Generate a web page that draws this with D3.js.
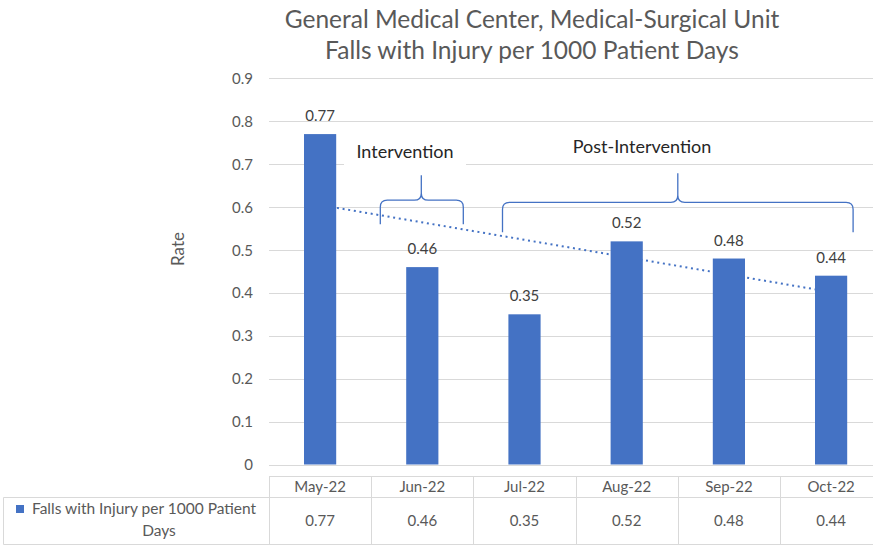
<!DOCTYPE html>
<html>
<head>
<meta charset="utf-8">
<script src="https://cdn.jsdelivr.net/npm/d3@7"></script>
<style>
  html, body { margin: 0; padding: 0; background: #fff; }
  svg { display: block; font-family: Lato, "Open Sans", sans-serif; }
</style>
</head>
<body>
<svg id="chart" width="873" height="545"></svg>
<script>
// ---- data ----
const categories = ["May-22", "Jun-22", "Jul-22", "Aug-22", "Sep-22", "Oct-22"];
const values = [0.77, 0.46, 0.35, 0.52, 0.48, 0.44];
const yTicks = [0, 0.1, 0.2, 0.3, 0.4, 0.5, 0.6, 0.7, 0.8, 0.9];
const titleLines = ["General Medical Center, Medical-Surgical Unit", "Falls with Injury per 1000 Patient Days"];
const seriesName = ["Falls with Injury per 1000 Patient", "Days"];
const axisTitle = "Rate";
const phaseLabels = ["Intervention", "Post-Intervention"];

// ---- layout ----
const W = 873, H = 545;
const plotLeft = 269, bandW = 102.2, plotTop = 78.3, plotBottom = 464.5;
const svg = d3.select("#chart");
const blue = "#4472C4", grid = "#d9d9d9", textGrey = "#595959";

const x = d3.scaleBand().domain(categories).range([plotLeft, plotLeft + bandW * categories.length]).padding(0);
const y = d3.scaleLinear().domain([0, 0.9]).range([plotBottom, plotTop]);
const cx = c => x(c) + x.bandwidth() / 2;

// title
svg.append("g").selectAll("text").data(titleLines).join("text")
  .attr("x", 532).attr("y", (d, i) => 28 + i * 31)
  .attr("text-anchor", "middle").attr("fill", textGrey)
  .style("font-size", "24.5px").text(d => d);

// gridlines
svg.append("g").selectAll("line").data(yTicks).join("line")
  .attr("x1", plotLeft).attr("x2", W)
  .attr("y1", d => Math.round(y(d)) + 0.5).attr("y2", d => Math.round(y(d)) + 0.5)
  .attr("stroke", grid).attr("stroke-width", 1);

// y axis labels
const yAxis = d3.axisLeft(y).tickValues(yTicks).tickSize(0).tickPadding(0).tickFormat(d => d3.format("")(+d.toFixed(1)));
const yg = svg.append("g").attr("transform", `translate(${253},0)`).call(yAxis);
yg.select(".domain").remove();
yg.selectAll("text").attr("fill", textGrey).style("font-size", "15px").style("font-family", "Lato, sans-serif").attr("dy", "0.34em");

// axis title
svg.append("text").attr("transform", "translate(184,249) rotate(-90)")
  .attr("text-anchor", "middle").attr("fill", textGrey).style("font-size", "17px").text(axisTitle);

// trendline (linear regression over category index)
const idx = values.map((v, i) => i + 1);
const mx = d3.mean(idx), my = d3.mean(values);
const slope = d3.sum(idx.map((xi, i) => (xi - mx) * (values[i] - my))) / d3.sum(idx.map(xi => (xi - mx) ** 2));
const intercept = my - slope * mx;
const trendPts = [categories[0], categories[categories.length - 1]].map((c, k) => {
  const i = k === 0 ? 1 : categories.length;
  return [cx(c), y(intercept + slope * i)];
});
svg.append("path").attr("d", d3.line()(trendPts))
  .attr("fill", "none").attr("stroke", blue).attr("stroke-width", 2)
  .attr("stroke-dasharray", "2 3.7");

// bars
const barW = x.bandwidth() * 0.315;
svg.append("g").selectAll("rect").data(values).join("rect")
  .attr("x", (d, i) => cx(categories[i]) - barW / 2)
  .attr("y", d => y(d)).attr("width", barW).attr("height", d => plotBottom - y(d))
  .attr("fill", blue);

// data labels
svg.append("g").selectAll("text").data(values).join("text")
  .attr("x", (d, i) => cx(categories[i])).attr("y", d => y(d) - 13)
  .attr("text-anchor", "middle").attr("fill", "#404040").style("font-size", "15px")
  .text(d => d3.format(".2f")(d));

// braces
function brace(x1, x2, xm, yTip, yBar, yTop, r) {
  return `M${x1},${yTip} L${x1},${yBar + r} Q${x1},${yBar} ${x1 + r},${yBar} L${xm - r},${yBar} Q${xm},${yBar} ${xm},${yBar - r} L${xm},${yTop}` +
         ` M${xm},${yTop} L${xm},${yBar - r} Q${xm},${yBar} ${xm + r},${yBar} L${x2 - r},${yBar} Q${x2},${yBar} ${x2},${yBar + r} L${x2},${yTip}`;
}
const braceG = svg.append("g").attr("fill", "none").attr("stroke", blue).attr("stroke-width", 1.3);
braceG.append("path").attr("d", brace(cx(categories[1]) - 42, cx(categories[1]) + 41, cx(categories[1]) - 1, y(0.56), y(0.616), y(0.674), 7));
braceG.append("path").attr("d", brace(cx(categories[2]) - 22, cx(categories[5]) + 22, (cx(categories[2]) - 22 + cx(categories[5]) + 22) / 2, y(0.541), y(0.611), y(0.679), 7));

// phase labels
svg.append("rect").attr("x", 344).attr("y", 136).attr("width", 122).attr("height", 34).attr("fill", "#fff");
svg.append("text").attr("x", 405).attr("y", 158).attr("text-anchor", "middle").attr("fill", "#262626")
  .style("font-size", "18px").text(phaseLabels[0]);
svg.append("text").attr("x", 642).attr("y", 153).attr("text-anchor", "middle").attr("fill", "#262626")
  .style("font-size", "18px").text(phaseLabels[1]);

// data table
const tbl = svg.append("g").attr("stroke", grid).attr("stroke-width", 1);
const rowTop = 476.5, rowMid = 497.5, rowBot = 544.5, tableLeft = 3.5;
tbl.append("line").attr("x1", plotLeft).attr("x2", W).attr("y1", rowTop).attr("y2", rowTop);
tbl.append("line").attr("x1", tableLeft).attr("x2", W).attr("y1", rowMid).attr("y2", rowMid);
tbl.append("line").attr("x1", tableLeft).attr("x2", W).attr("y1", rowBot).attr("y2", rowBot);
tbl.append("line").attr("x1", tableLeft).attr("x2", tableLeft).attr("y1", rowMid).attr("y2", rowBot);
tbl.selectAll("line.col").data(categories.concat(["end"])).join("line").attr("class", "col")
  .attr("x1", (d, i) => Math.round(plotLeft + i * bandW) + 0.5).attr("x2", (d, i) => Math.round(plotLeft + i * bandW) + 0.5)
  .attr("y1", rowTop).attr("y2", rowBot);

svg.append("g").selectAll("text").data(categories).join("text")
  .attr("x", d => cx(d)).attr("y", 492).attr("text-anchor", "middle").attr("fill", textGrey)
  .style("font-size", "15px").text(d => d);
svg.append("g").selectAll("text").data(values).join("text")
  .attr("x", (d, i) => cx(categories[i])).attr("y", 526).attr("text-anchor", "middle").attr("fill", textGrey)
  .style("font-size", "15px").text(d => d3.format(".2f")(d));

svg.append("rect").attr("x", 16).attr("y", 505).attr("width", 8).attr("height", 8).attr("fill", blue);
svg.append("text").attr("x", 32).attr("y", 514).attr("fill", textGrey).style("font-size", "15.5px").text(seriesName[0]);
svg.append("text").attr("x", 159).attr("y", 536).attr("text-anchor", "middle").attr("fill", textGrey).style("font-size", "15.5px").text(seriesName[1]);
</script>
</body>
</html>
